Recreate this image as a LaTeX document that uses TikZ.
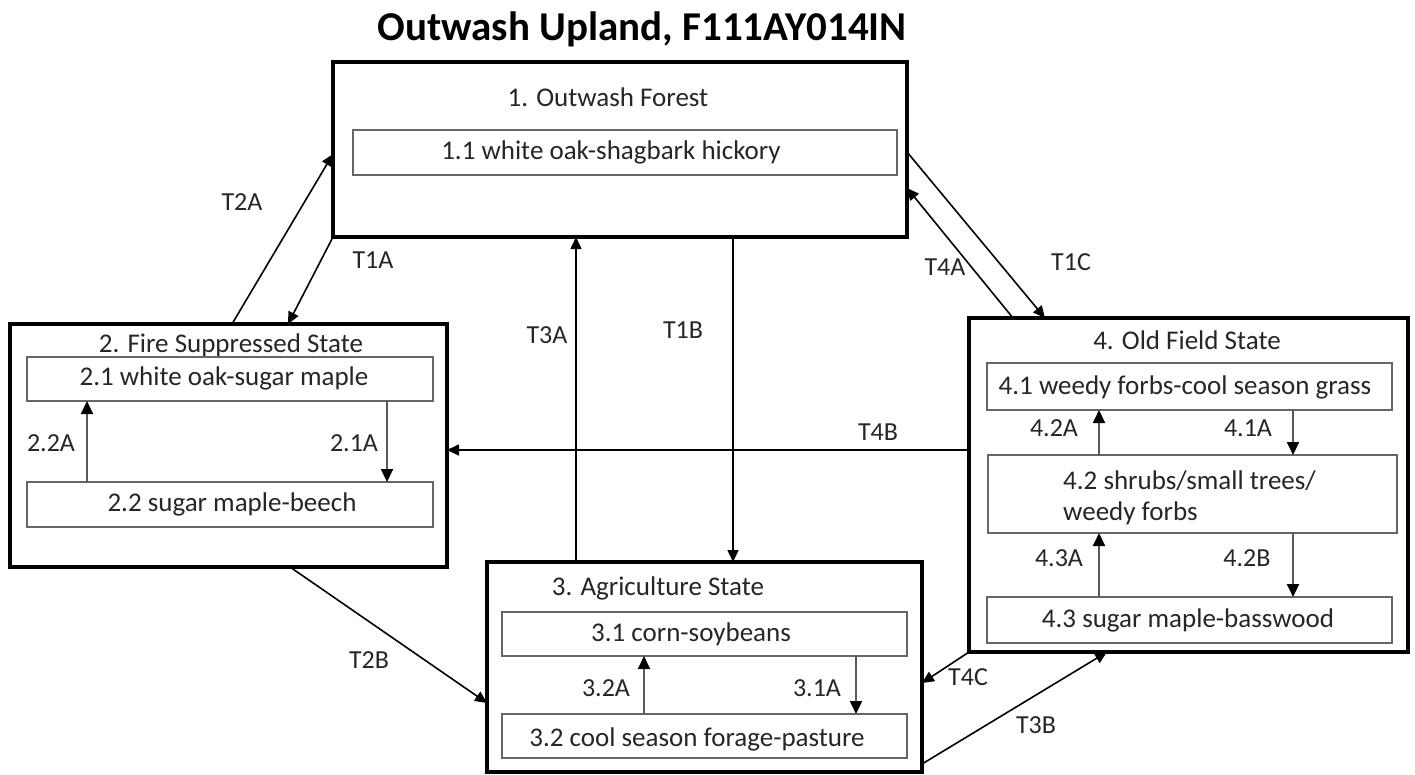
\documentclass[tikz,border=0pt]{standalone}
\usepackage{fontspec}
\setmainfont{Carlito}
\usetikzlibrary{arrows.meta}
\begin{document}
\begin{tikzpicture}[x=1pt,y=-1pt,
  outerbox/.style={draw=black,line width=4pt,rectangle,inner sep=0pt,outer sep=0pt},
  innerbox/.style={draw=black!60,line width=1.4pt,rectangle,inner sep=0pt,outer sep=0pt},
  txt/.style={font=\fontsize{27}{31}\selectfont,text=black!85,inner sep=0pt},
  lbl/.style={font=\fontsize{26}{30}\selectfont,text=black!85,inner sep=0pt},
  conn/.style={draw=black,line width=1.6pt,-{Triangle[length=12pt,width=11pt]}},
  inarrow/.style={draw=black!65,line width=2pt,-{Triangle[length=13pt,width=12pt,color=black]}}
]
\useasboundingbox (0,0) rectangle (1415,774);
\fill[white] (0,0) rectangle (1415,774);

% title
\node[font=\fontsize{41}{47}\selectfont\bfseries,inner sep=0pt] (title) at (642,29) {Outwash Upland, F111AY014IN};

% outer boxes
\node[outerbox,minimum width=574pt,minimum height=175pt] (b1) at (620,149.5) {};
\node[outerbox,minimum width=437pt,minimum height=243pt] (b2) at (228.5,445.5) {};
\node[outerbox,minimum width=435pt,minimum height=210pt] (b3) at (704.5,667) {};
\node[outerbox,minimum width=439pt,minimum height=334pt] (b4) at (1188.5,485) {};

% state titles
\node[txt] (t1) at (608,97) {1. Outwash Forest};
\node[txt] (t2) at (231,345) {2. Fire Suppressed State};
\node[txt] (t3) at (658,588) {3. Agriculture State};
\node[txt] (t4) at (1187,340) {4. Old Field State};

% inner boxes
\node[innerbox,minimum width=544pt,minimum height=45pt] (s11) at (625,152.5) {};
\node[innerbox,minimum width=406pt,minimum height=44pt] (s21) at (230,379) {};
\node[innerbox,minimum width=406pt,minimum height=45pt] (s22) at (230,504.5) {};
\node[innerbox,minimum width=405pt,minimum height=44pt] (s31) at (704.5,634) {};
\node[innerbox,minimum width=405pt,minimum height=44pt] (s32) at (704.5,736) {};
\node[innerbox,minimum width=405pt,minimum height=47pt] (s41) at (1189.5,386.5) {};
\node[innerbox,minimum width=409pt,minimum height=78pt] (s42) at (1192.5,494) {};
\node[innerbox,minimum width=405pt,minimum height=46pt] (s43) at (1189.5,620) {};

% inner texts
\node[txt] (x11) at (611,152) {1.1 white oak-shagbark hickory};
\node[txt] (x21) at (224,378) {2.1 white oak-sugar maple};
\node[txt] (x22) at (232,504) {2.2 sugar maple-beech};
\node[txt] (x31) at (691,634) {3.1 corn-soybeans};
\node[txt] (x32) at (697,739) {3.2 cool season forage-pasture};
\node[txt] (x41) at (1185,387) {4.1 weedy forbs-cool season grass};
\node[txt,anchor=west,align=left] (x42) at (1063,498) {4.2 shrubs/small trees/\\weedy forbs};
\node[txt] (x43) at (1188,620) {4.3 sugar maple-basswood};

% inner transitions
\draw[inarrow] ([xshift=60pt]s22.north west) -- ([xshift=60pt]s22.north west |- s21.south);
\draw[inarrow] ([xshift=360pt]s21.south west) -- ([xshift=360pt]s21.south west |- s22.north);
\draw[inarrow] ([xshift=142pt]s32.north west) -- ([xshift=142pt]s32.north west |- s31.south);
\draw[inarrow] ([xshift=354pt]s31.south west) -- ([xshift=354pt]s31.south west |- s32.north);
\draw[inarrow] ([xshift=111pt]s42.north west) -- ([xshift=111pt]s42.north west |- s41.south);
\draw[inarrow] ([xshift=306pt]s41.south west) -- ([xshift=306pt]s41.south west |- s42.north);
\draw[inarrow] ([xshift=112pt]s43.north west) -- ([xshift=112pt]s43.north west |- s42.south);
\draw[inarrow] ([xshift=305pt]s42.south west) -- ([xshift=305pt]s42.south west |- s43.north);

\node[lbl] (l22A) at (51,443) {2.2A};
\node[lbl] (l21A) at (354,443) {2.1A};
\node[lbl] (l32A) at (606,688) {3.2A};
\node[lbl] (l31A) at (817,688) {3.1A};
\node[lbl] (l42A) at (1054,428) {4.2A};
\node[lbl] (l41A) at (1248,428) {4.1A};
\node[lbl] (l43A) at (1059,558) {4.3A};
\node[lbl] (l42B) at (1247,558) {4.2B};

% state transitions
\draw[conn] ([xshift=222pt]b2.north west) -- ([yshift=-92pt]b1.north west);
\draw[conn] (b1.south west) -- ([xshift=278pt]b2.north west);
\draw[conn] ([xshift=89pt]b3.north west) -- ([xshift=89pt]b3.north west |- b1.south);
\draw[conn] ([xshift=400pt]b1.south west) -- ([xshift=400pt]b1.south west |- b3.north);
\draw[conn] ([yshift=-90pt]b1.north east) -- ([xshift=76pt]b4.north west);
\draw[conn] ([xshift=44pt]b4.north west) -- ([yshift=-126pt]b1.north east);
\draw[conn] ([yshift=-132pt]b4.north west) -- ([yshift=-132pt]b4.north west -| b2.east);
\draw[conn] ([xshift=280pt]b2.south west) -- ([yshift=-141pt]b3.north west);
\draw[conn] (b4.south west) -- ([yshift=-121pt]b3.north east);
\draw[conn] ([yshift=8pt]b3.south east) -- ([xshift=138pt]b4.south west);

\node[lbl] (lT2A) at (242,202) {T2A};
\node[lbl] (lT1A) at (373,260) {T1A};
\node[lbl] (lT3A) at (547,335) {T3A};
\node[lbl] (lT1B) at (683,330) {T1B};
\node[lbl] (lT1C) at (1071,262) {T1C};
\node[lbl] (lT4A) at (945,267) {T4A};
\node[lbl] (lT4B) at (878,432) {T4B};
\node[lbl] (lT2B) at (369,660) {T2B};
\node[lbl] (lT4C) at (968,677) {T4C};
\node[lbl] (lT3B) at (1036,725) {T3B};
\end{tikzpicture}
\end{document}
